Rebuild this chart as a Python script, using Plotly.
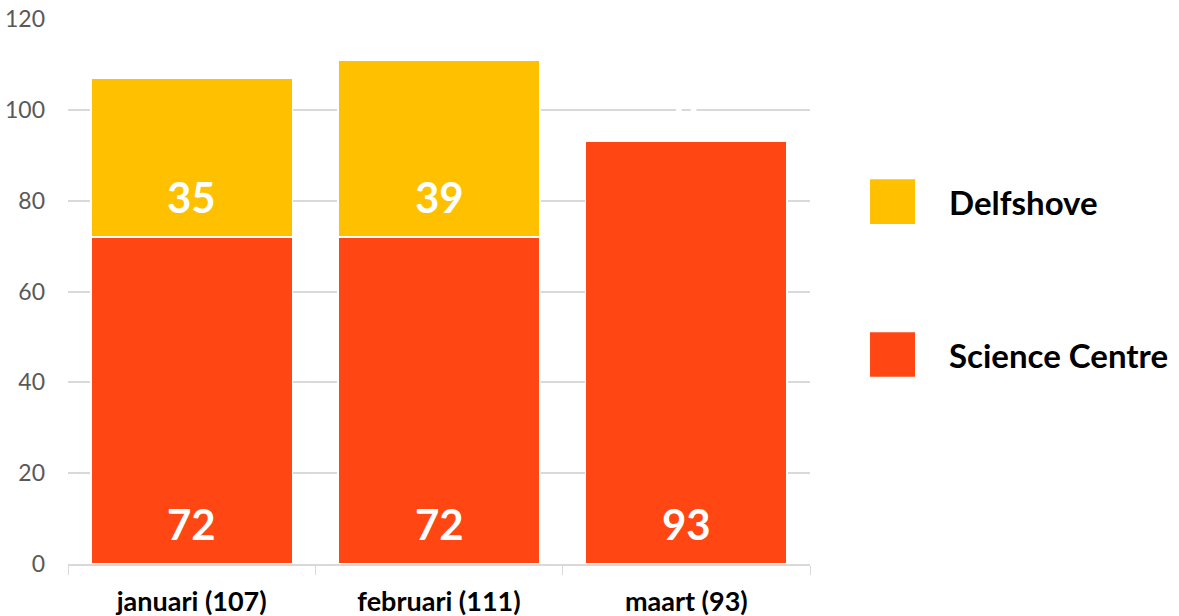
import plotly.graph_objects as go

categories = ["januari (107)", "februari (111)", "maart (93)"]
science_centre = [72, 72, 93]
delfshove = [35, 39, 0]
y_ticks = [0, 20, 40, 60, 80, 100, 120]

RED = "#FF4613"
YEL = "#FFC000"
FONT = "Lato"

fig = go.Figure()
fig.add_trace(go.Bar(x=categories, y=science_centre, name="Science Centre",
                     marker=dict(color=RED, line=dict(color="white", width=1.5)),
                     width=0.815, hoverinfo="x+y"))
fig.add_trace(go.Bar(x=categories, y=delfshove, name="Delfshove",
                     marker=dict(color=YEL, line=dict(color="white", width=1.5)),
                     width=0.815, hoverinfo="x+y"))

# value labels near bottom of each segment (white, as in the original)
for c, s, d in zip(categories, science_centre, delfshove):
    fig.add_annotation(x=c, y=8.7, text=f"<b>{s}</b>", showarrow=False,
                       yanchor="middle", font=dict(family=FONT, size=42, color="white"))
    fig.add_annotation(x=c, y=s + 8.7, text=f"<b>{d}</b>", showarrow=False,
                       yanchor="middle", font=dict(family=FONT, size=42, color="white"))

# legend drawn manually
legend_items = [("Delfshove", YEL, 0.665), ("Science Centre", RED, 0.3844)]
for name, col, yc in legend_items:
    fig.add_shape(type="rect", xref="paper", yref="paper",
                  x0=1.0809, x1=1.1415, y0=yc - 0.041, y1=yc + 0.041,
                  fillcolor=col, line=dict(width=0))
    fig.add_annotation(xref="paper", yref="paper", x=1.1846, y=yc, text=f"<b>{name}</b>",
                       showarrow=False, xanchor="left", yanchor="middle",
                       font=dict(family=FONT, size=33, color="black"))

fig.update_layout(
    barmode="stack",
    width=1179, height=616,
    margin=dict(l=68, r=369, t=19, b=52),
    plot_bgcolor="white", paper_bgcolor="white",
    showlegend=False,
    bargap=0.185,
    font=dict(family=FONT),
)
fig.update_xaxes(showline=True, linecolor="#D9D9D9", linewidth=1.5, automargin=False,
                 ticks="outside", tickson="boundaries", ticklen=9, tickcolor="#D9D9D9",
                 tickfont=dict(family=FONT, size=27, color="black"),
                 ticklabelstandoff=13,
                 tickprefix="<b>", ticksuffix="</b>", range=[-0.5, 2.5])
fig.update_yaxes(range=[0, 120], tickvals=y_ticks, showgrid=True, gridcolor="#D9D9D9",
                 gridwidth=1.5, zeroline=False, showline=False, automargin=False,
                 tickfont=dict(family=FONT, size=23, color="#595959"), ticks="",
                 ticklabelstandoff=22)

fig.write_html("out.html", config={"displayModeBar": False},
               post_script="document.body.style.margin='0';document.body.style.overflow='hidden';")
